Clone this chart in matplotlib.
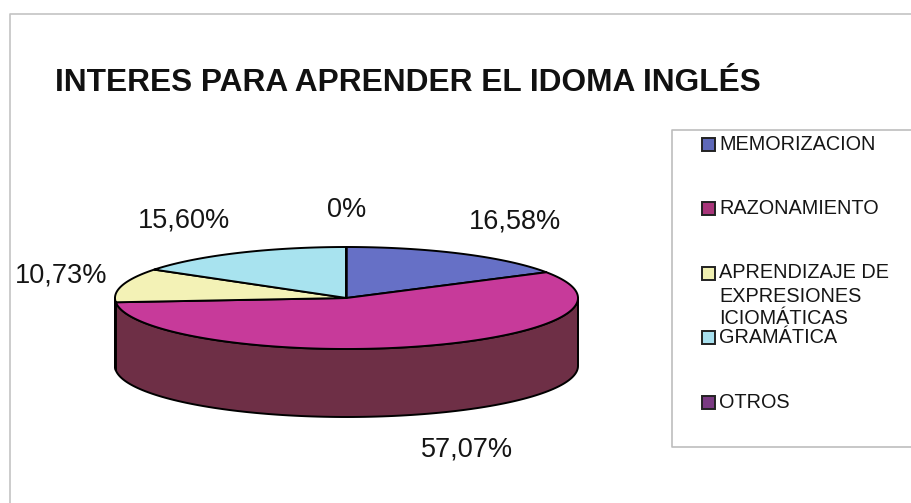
import numpy as np
import matplotlib
matplotlib.use("Agg")
import matplotlib.pyplot as plt
from matplotlib.patches import Polygon, Rectangle

plt.rcParams['font.family'] = ['Liberation Sans', 'DejaVu Sans']

# ---- data ----
title = "INTERES PARA APRENDER EL IDOMA INGLÉS"
categories = ["MEMORIZACION", "RAZONAMIENTO",
              "APRENDIZAJE DE\nEXPRESIONES\nICIOMÁTICAS", "GRAMÁTICA", "OTROS"]
values = [16.58, 57.07, 10.73, 15.60, 0.0]
value_labels = ["16,58%", "57,07%", "10,73%", "15,60%", "0%"]

# ---- styles ----
top_colors = ["#6670C6", "#C73A9A", "#F3F2B6", "#A8E3EF", "#7A3A82"]
side_colors = ["#414A8E", "#6E2F46", "#B5B47E", "#6FA7B3", "#4E2553"]
legend_colors = ["#5E68B8", "#A8357A", "#F0F0B2", "#A8E0EE", "#7A3A82"]

W, H = 912, 503
fig = plt.figure(figsize=(W / 100, H / 100), dpi=100)
ax = fig.add_axes([0, 0, 1, 1])
ax.set_xlim(0, W)
ax.set_ylim(H, 0)
ax.axis('off')

# chart frame
ax.plot([10, 10, W + 5], [H + 5, 14, 14], color="#c4c4c4", lw=1.2)
# legend frame
ax.plot([W + 5, 672, 672, W + 5], [130, 130, 447, 447], color="#bdbdbd", lw=1.2)

ax.text(55, 83, title, fontsize=22.8, fontweight='bold', va='center', ha='left',
        color="#111111")

# ---- 3D pie geometry ----
cx, cy, rx, ry, depth = 346.5, 298, 231.5, 51, 68

def pt(t_deg, dy=0.0):
    t = np.radians(t_deg)
    return cx + rx * np.sin(t), cy - ry * np.cos(t) + dy

vals = np.array(values)
fr = vals / vals.sum() * 360.0
starts = np.concatenate([[0.0], np.cumsum(fr)[:-1]])
ends = starts + fr

# sides (front half: 90..270)
for s, e, c in zip(starts, ends, side_colors):
    a, b = max(s, 90.0), min(e, 270.0)
    if a < b:
        ts = np.linspace(a, b, 120)
        xs, ys = pt(ts)
        xb, yb = pt(ts[::-1], depth)
        poly = np.column_stack([np.concatenate([xs, xb]), np.concatenate([ys, yb])])
        ax.add_patch(Polygon(poly, closed=True, facecolor=c, edgecolor='black',
                             lw=1.4, joinstyle='round'))

# tops
for s, e, c in zip(starts, ends, top_colors):
    ts = np.linspace(s, e, max(2, int((e - s) * 2) + 2))
    xs, ys = pt(ts)
    poly = np.column_stack([np.concatenate([[cx], xs]), np.concatenate([[cy], ys])])
    ax.add_patch(Polygon(poly, closed=True, facecolor=c, edgecolor='black',
                         lw=1.4, joinstyle='round'))

# value labels
for s, e, lab in zip(starts, ends, value_labels):
    m = np.radians((s + e) / 2.0)
    sn, cs = np.sin(m), np.cos(m)
    lx = cx + (rx + 15) * sn
    ly = cy - (ry + 37) * cs + (depth if cs < 0 else 0)
    ha = 'left' if sn > 0.25 else ('right' if sn < -0.25 else 'center')
    ax.text(lx, ly, lab, fontsize=19.5, ha=ha, va='center', color="#151515")

# legend
slot0, slot_step = 144, 64.5
for i, (cat, col) in enumerate(zip(categories, legend_colors)):
    y = slot0 + i * slot_step
    ax.add_patch(Rectangle((702, y - 6.5), 13, 13, facecolor=col,
                           edgecolor='#222222', lw=1.4))
    for j, line in enumerate(cat.split('\n')):
        ax.text(719, y + j * 23, line, fontsize=14.3, ha='left', va='center',
                color="#151515")

fig.savefig("out.png", dpi=100, facecolor='white')
